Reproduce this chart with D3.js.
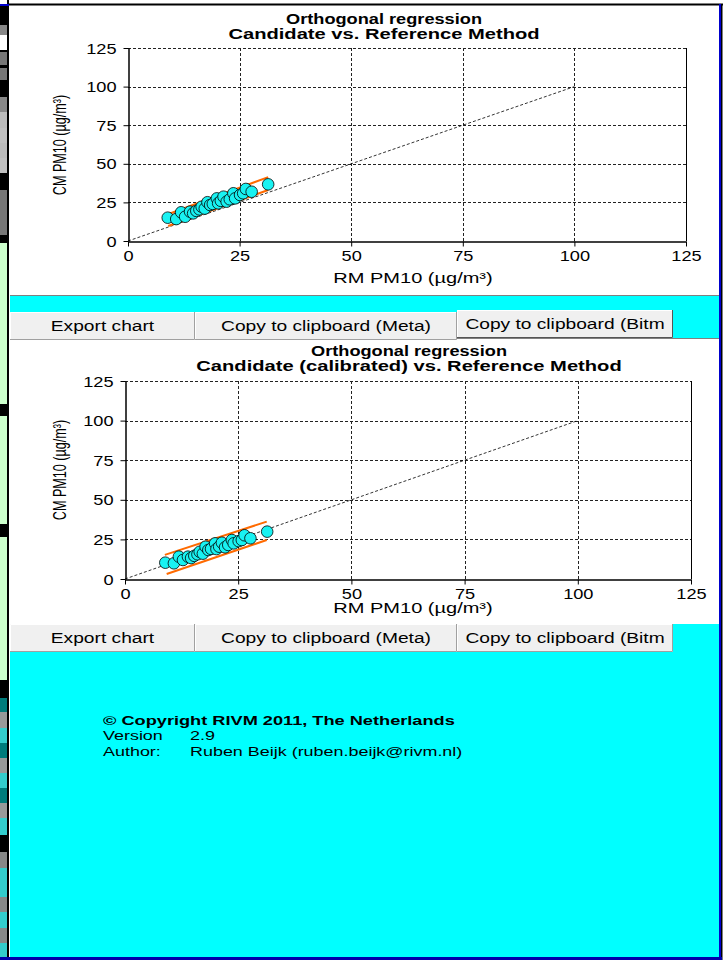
<!DOCTYPE html>
<html>
<head>
<meta charset="utf-8">
<script src="https://cdn.jsdelivr.net/npm/d3@7"></script>
<style>
  html, body { margin: 0; padding: 0; background: #fff; }
  svg { display: block; font-family: "Liberation Sans", Arial, sans-serif; }
</style>
</head>
<body>
<svg id="c" width="724" height="960"></svg>
<script>
// ---------------- DATA ----------------
const axisTicks = [0, 25, 50, 75, 100, 125];
const rmPM10 = [8.9, 10.8, 11.9, 12.8, 13.9, 14.6, 15.3, 16.0, 16.5, 17.2, 17.8, 18.4, 19.0, 19.9, 20.2, 20.8, 21.4, 22.1, 22.8, 23.6, 24.0, 25.1, 25.8, 26.4, 27.7, 31.4];
const cmPM10 = [15.1, 14.2, 18.6, 15.7, 19.0, 17.9, 19.5, 20.5, 22.2, 21.0, 25.1, 23.3, 24.0, 27.6, 24.4, 26.0, 28.7, 25.5, 27.0, 30.9, 27.6, 29.8, 30.9, 33.7, 31.9, 36.7];
const cmPM10Calibrated = [10.3, 9.9, 14.1, 12.0, 14.1, 13.2, 14.6, 15.6, 17.2, 16.0, 20.4, 18.3, 19.0, 22.5, 18.9, 20.4, 22.9, 20.0, 21.5, 24.6, 22.5, 23.9, 24.6, 27.6, 25.7, 29.9];
const identityLine = [[0, 0], [100, 100]];
const rawBandUpper = [[8.5, 16.8], [31.4, 41.4]];
const rawBandLower = [[9.0, 9.7], [31.4, 33.0]];
const calBandUpper = [[8.8, 15.2], [31.3, 36.2]];
const calBandLower = [[9.2, 3.2], [31.3, 24.6]];
const titlesRaw = ["Orthogonal regression", "Candidate vs. Reference Method"];
const titlesCal = ["Orthogonal regression", "Candidate (calibrated) vs. Reference Method"];
const xLabel = "RM PM10  (\u00b5g/m\u00b3)";
const yLabel = "CM PM10 (\u00b5g/m\u00b3)";
const buttonLabels = ["Export chart", "Copy to clipboard (Meta)", "Copy to clipboard (Bitm"];

// ---------------- LAYOUT ----------------
const SX = 1.3; // horizontal text stretch of the original screenshot
const svg = d3.select("#c");

function txt(g, x, y, s, o = {}) {
  return g.append("text")
    .attr("transform", `translate(${x},${y}) scale(${o.sx || SX},1)`)
    .attr("text-anchor", o.anchor || "middle")
    .attr("dominant-baseline", "central")
    .attr("font-size", o.size || 14)
    .attr("font-weight", o.bold ? "bold" : "normal")
    .attr("fill", "#000")
    .text(s);
}

// left decorative strip
const stripBlocks = [
  [0, 5, "#fff"], [5, 25, "#000"], [25, 35, "#888"], [35, 50, "#fff"], [50, 52, "#000"], [52, 65, "#777"],
  [65, 68, "#000"], [68, 80, "#777"], [80, 97, "#000"], [97, 112, "#888"], [112, 128, "#bbb"],
  [128, 143, "#c0c0c0"], [143, 158, "#bbb"], [158, 173, "#c0c0c0"], [173, 190, "#000"], [190, 235, "#777"],
  [235, 243, "#000"], [243, 404, "#ccffcc"], [404, 416, "#000"], [416, 524, "#ccffcc"], [524, 537, "#000"],
  [537, 680, "#ccffcc"], [680, 698, "#000"], [698, 712, "#007b7b"], [712, 728, "#999"], [728, 743, "#33cccc"],
  [743, 758, "#007b7b"], [758, 773, "#999"], [773, 788, "#33cccc"], [788, 803, "#007b7b"], [803, 818, "#999"],
  [818, 835, "#33cccc"], [835, 852, "#000"], [852, 868, "#888"], [868, 897, "#33cccc"], [897, 912, "#888"],
  [912, 928, "#33cccc"], [928, 943, "#888"], [943, 960, "#33cccc"]
];
svg.selectAll("rect.strip").data(stripBlocks).join("rect").attr("class", "strip")
  .attr("x", 0).attr("y", d => d[0]).attr("width", 7).attr("height", d => d[1] - d[0]).attr("fill", d => d[2]);
svg.append("rect").attr("x", 7).attr("y", 0).attr("width", 2).attr("height", 960).attr("fill", "#000");
svg.append("rect").attr("x", 0).attr("y", 4).attr("width", 9).attr("height", 2).attr("fill", "#0000cc");

// cyan background & panels
svg.append("rect").attr("x", 10).attr("y", 296).attr("width", 709).attr("height", 662).attr("fill", "#00ffff");
svg.append("rect").attr("x", 10).attr("y", 6).attr("width", 709).attr("height", 289).attr("fill", "#fff");
svg.append("line").attr("x1", 10).attr("x2", 719).attr("y1", 295.5).attr("y2", 295.5).attr("stroke", "#808080");
svg.append("rect").attr("x", 10).attr("y", 338).attr("width", 709).attr("height", 286).attr("fill", "#fff");
svg.append("line").attr("x1", 10).attr("x2", 719).attr("y1", 338.5).attr("y2", 338.5).attr("stroke", "#808080");
svg.append("line").attr("x1", 9).attr("x2", 723).attr("y1", 4.5).attr("y2", 4.5).attr("stroke", "#000").attr("stroke-width", 2);
svg.append("rect").attr("x", 719).attr("y", 4).attr("width", 2).attr("height", 956).attr("fill", "#0000cc");
svg.append("rect").attr("x", 721).attr("y", 4).attr("width", 1.5).attr("height", 956).attr("fill", "#000");
svg.append("rect").attr("x", 0).attr("y", 957).attr("width", 722).attr("height", 3).attr("fill", "#0000aa");

// ---------------- CHARTS ----------------
function chart(cfg) {
  const g = svg.append("g");
  const x = d3.scaleLinear().domain([0, 125]).range([cfg.x0, cfg.x1]);
  const y = d3.scaleLinear().domain([0, 125]).range([cfg.y0, cfg.y1]);

  // grid
  const gridX = axisTicks.filter(t => t > 0 && t < 125);
  g.selectAll("line.gx").data(gridX).join("line")
    .attr("x1", d => Math.round(x(d)) + 0.5).attr("x2", d => Math.round(x(d)) + 0.5).attr("y1", y(0)).attr("y2", y(125))
    .attr("stroke", "#222").attr("stroke-dasharray", "3,2");
  g.selectAll("line.gy").data(axisTicks.filter(t => t > 0)).join("line")
    .attr("x1", x(0)).attr("x2", x(125)).attr("y1", d => Math.round(y(d)) + 0.5).attr("y2", d => Math.round(y(d)) + 0.5)
    .attr("stroke", "#222").attr("stroke-dasharray", "3,2");
  g.append("line").attr("x1", Math.round(x(125)) + 0.5).attr("x2", Math.round(x(125)) + 0.5)
    .attr("y1", y(0)).attr("y2", y(125)).attr("stroke", "#000");

  // axes
  const ax = g.append("g").attr("transform", `translate(0,${Math.round(y(0)) + 0.5})`)
    .call(d3.axisBottom(x).tickValues(axisTicks).tickSize(5).tickSizeOuter(0));
  const ay = g.append("g").attr("transform", `translate(${Math.round(x(0)) + 0.5},0)`)
    .call(d3.axisLeft(y).tickValues(axisTicks).tickSize(5).tickSizeOuter(0));
  [ax, ay].forEach(a => {
    a.select(".domain").attr("stroke", "#000").attr("stroke-width", 1.5);
    a.selectAll(".tick line").attr("stroke", "#000");
    a.selectAll(".tick text").attr("font-size", 14).attr("font-family", "Liberation Sans, Arial, sans-serif").attr("fill", "#000");
  });
  ax.selectAll(".tick text").attr("y", 0).attr("dy", null).attr("dominant-baseline", "central")
    .attr("transform", `translate(0,${cfg.xTickOff}) scale(${SX},1)`);
  ay.selectAll(".tick text").attr("x", 0).attr("dy", null).attr("dominant-baseline", "central")
    .attr("transform", `translate(-12,0) scale(${SX},1)`);

  // identity line
  const line = d3.line().x(d => x(d[0])).y(d => y(d[1]));
  g.append("path").attr("d", line(identityLine)).attr("fill", "none")
    .attr("stroke", "#000").attr("stroke-width", 0.8).attr("stroke-dasharray", "3,2");

  // band lines
  [cfg.upper, cfg.lower].forEach(b => {
    g.append("path").attr("d", line(b)).attr("fill", "none").attr("stroke", "#ff6a00").attr("stroke-width", 2);
  });

  // points
  g.selectAll("circle").data(rmPM10.map((v, i) => [v, cfg.yVals[i]])).join("circle")
    .attr("cx", d => x(d[0])).attr("cy", d => y(d[1])).attr("r", 5.8)
    .attr("fill", "#19f2f2").attr("stroke", "#000").attr("stroke-width", 0.8);

  // texts
  txt(g, cfg.titleX, cfg.titleY, cfg.titles[0], { bold: true, size: 14 });
  txt(g, cfg.titleX, cfg.titleY + 15, cfg.titles[1], { bold: true, size: 14, sx: 1.44 });
  txt(g, cfg.xLabX, cfg.xLabY, xLabel, { size: 14, sx: 1.43 });
  g.append("text")
    .attr("transform", `translate(${cfg.yLabX},${cfg.yLabY}) rotate(-90) scale(0.9,1.3)`)
    .attr("text-anchor", "middle").attr("dominant-baseline", "central")
    .attr("font-size", 14).text(yLabel);
}

chart({ x0: 128, x1: 686, y0: 241, y1: 48, yVals: cmPM10, upper: rawBandUpper, lower: rawBandLower,
  titles: titlesRaw, titleX: 384, titleY: 19, xLabX: 413, xLabY: 278, yLabX: 60, yLabY: 145, xTickOff: 14 });
chart({ x0: 125, x1: 691, y0: 579, y1: 381, yVals: cmPM10Calibrated, upper: calBandUpper, lower: calBandLower,
  titles: titlesCal, titleX: 409, titleY: 351, xLabX: 413, xLabY: 608, yLabX: 60, yLabY: 470, xTickOff: 14 });

// ---------------- BUTTONS ----------------
function button(x0, x1, y0, y1, label, raised) {
  const g = svg.append("g");
  g.append("rect").attr("x", x0).attr("y", y0).attr("width", x1 - x0).attr("height", y1 - y0).attr("fill", "#f0f0f0");
  g.append("path").attr("d", `M${x0 + 0.5},${y1} V${y0 + 0.5} H${x1}`).attr("fill", "none").attr("stroke", "#fff");
  g.append("path").attr("d", `M${x0},${y1 - 0.5} H${x1 - 0.5} V${y0}`).attr("fill", "none")
    .attr("stroke", raised ? "#555" : "#a0a0a0");
  txt(g, (x0 + x1) / 2, (y0 + y1) / 2, label, { size: 14, sx: 1.37 });
}
const btnX = [[10, 195], [195, 457], [457, 673]];
button(btnX[0][0], btnX[0][1], 312, 340, buttonLabels[0]);
button(btnX[1][0], btnX[1][1], 312, 340, buttonLabels[1]);
button(btnX[2][0], btnX[2][1], 310, 338, buttonLabels[2], true);
button(btnX[0][0], btnX[0][1], 624, 652, buttonLabels[0]);
button(btnX[1][0], btnX[1][1], 624, 652, buttonLabels[1]);
button(btnX[2][0], btnX[2][1], 624, 652, buttonLabels[2]);

// ---------------- COPYRIGHT ----------------
const cg = svg.append("g");
txt(cg, 103, 720, "\u00a9 Copyright RIVM 2011, The Netherlands", { anchor: "start", bold: true, size: 13, sx: 1.4 });
txt(cg, 103, 735, "Version", { anchor: "start", size: 13, sx: 1.38 });
txt(cg, 190, 735, "2.9", { anchor: "start", size: 13, sx: 1.38 });
txt(cg, 103, 751, "Author:", { anchor: "start", size: 13, sx: 1.38 });
txt(cg, 190, 751, "Ruben Beijk (ruben.beijk@rivm.nl)", { anchor: "start", size: 13, sx: 1.38 });
</script>
</body>
</html>
